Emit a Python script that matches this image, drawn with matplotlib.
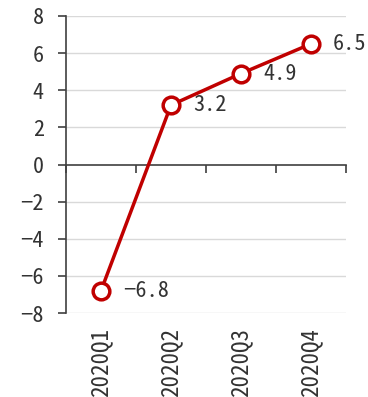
import matplotlib
matplotlib.use("Agg")
import matplotlib.pyplot as plt
import matplotlib.transforms as mtransforms

categories = ["2020Q1", "2020Q2", "2020Q3", "2020Q4"]
values = [-6.8, 3.2, 4.9, 6.5]
value_labels = ["−6.8", "3.2", "4.9", "6.5"]
yticks = [-8, -6, -4, -2, 0, 2, 4, 6, 8]
ytick_labels = ["−8", "−6", "−4", "−2", "0", "2", "4", "6", "8"]

fam = ['Noto Sans Mono CJK JP', 'Liberation Mono', 'DejaVu Sans']
plt.rcParams['font.family'] = fam

fig = plt.figure(figsize=(3.68, 3.97), dpi=100)
ax = fig.add_axes([66/368, 1-313/397, 280/368, 297/397])

red = "#C00000"
tc = "#333333"
x = list(range(len(categories)))
ax.plot(x, values, color=red, lw=2.5, marker="o", ms=12, mfc="white",
        mec=red, mew=2.5, zorder=5, clip_on=False)

for xi, v, lab in zip(x, values, value_labels):
    ax.annotate(lab, (xi, v), xytext=(16, 0), textcoords="offset points",
                ha="left", va="center", fontsize=16, color=tc)

ax.set_xlim(-0.5, len(categories) - 0.5)
ax.set_ylim(-8, 8)
ax.set_yticks(yticks)
ax.set_yticklabels(ytick_labels, fontsize=16, color=tc)
for y in yticks:
    if y != 0:
        ax.axhline(y, color="#d9d9d9", lw=1, zorder=1)

ax.spines["top"].set_visible(False)
ax.spines["right"].set_visible(False)
ax.spines["bottom"].set_position(("data", 0))
ax.spines["left"].set_color("#404040")
ax.spines["bottom"].set_color("#404040")
ax.spines["left"].set_linewidth(1.2)
ax.spines["bottom"].set_linewidth(1.2)

ax.set_xticks([i - 0.5 for i in range(len(categories) + 1)])
ax.set_xticklabels([])
ax.tick_params(axis="x", direction="out", length=6, color="#404040", width=1.2)
ax.tick_params(axis="y", direction="out", length=6, color="#404040", width=1.2, pad=10)

trans = mtransforms.blended_transform_factory(ax.transData, ax.transAxes) + \
    mtransforms.ScaledTranslation(0, -10/72, fig.dpi_scale_trans)
for xi, c in zip(x, categories):
    ax.text(xi, 0, c, transform=trans, rotation=90, ha="center", va="top",
            fontsize=16.5, color=tc)

fig.savefig("out.png", dpi=100)
